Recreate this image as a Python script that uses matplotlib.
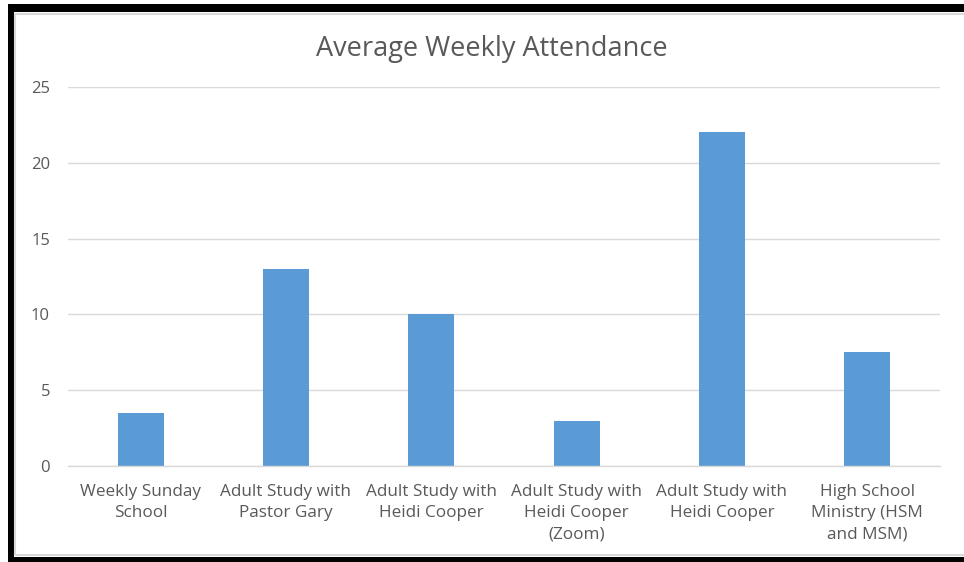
import matplotlib
matplotlib.use('Agg')
import matplotlib.pyplot as plt
from matplotlib.patches import Rectangle

categories = [
    "Weekly Sunday\nSchool",
    "Adult Study with\nPastor Gary",
    "Adult Study with\nHeidi Cooper",
    "Adult Study with\nHeidi Cooper\n(Zoom)",
    "Adult Study with\nHeidi Cooper",
    "High School\nMinistry (HSM\nand MSM)",
]
attendance = [3.5, 13, 10, 3, 22, 7.5]
y_ticks = [0, 5, 10, 15, 20, 25]

BAR = '#5B9BD5'
TXT = '#595959'
GRID = '#D9D9D9'

plt.rcParams['font.family'] = ['Open Sans', 'DejaVu Sans']

W, H = 964, 562
fig = plt.figure(figsize=(W / 100, H / 100), dpi=100)

# axes placed in pixel terms: x 68..940, y 87 (25) .. 466 (0)
ax = fig.add_axes([68 / W, 1 - 466 / H, (940 - 68) / W, (466 - 87) / H])

x = range(len(categories))
ax.bar(x, attendance, width=0.315, color=BAR, zorder=3)

ax.set_xlim(-0.5, len(categories) - 0.5)
ax.set_ylim(0, 25)
ax.set_yticks(y_ticks)
ax.set_xticks(list(x))
ax.set_xticklabels(categories, fontsize=12.3, color=TXT, linespacing=1.42)
ax.tick_params(axis='y', labelsize=12, labelcolor=TXT, length=0, pad=13)
ax.tick_params(axis='x', length=0, pad=13)
ax.grid(axis='y', color=GRID, linewidth=1, zorder=0)
for s in ['top', 'right', 'left']:
    ax.spines[s].set_visible(False)
ax.spines['bottom'].set_color(GRID)
ax.spines['bottom'].set_linewidth(1)
ax.spines['bottom'].set_zorder(4)

fig.text(492 / W, 1 - 49 / H, "Average Weekly Attendance", fontsize=19.5,
         color=TXT, ha='center', va='center')

# screenshot frame: black edges and light gray chart border
def px_rect(x0, y0, x1, y1, **kw):
    fig.patches.append(Rectangle((x0 / W, 1 - y1 / H), (x1 - x0) / W, (y1 - y0) / H,
                                 transform=fig.transFigure, **kw))

px_rect(8, 4, W + 5, 12, facecolor='black', edgecolor='none')
px_rect(8, 4, 14, H + 5, facecolor='black', edgecolor='none')
px_rect(8, 557, W + 5, H + 5, facecolor='black', edgecolor='none')
px_rect(15.5, 14, W + 10, 555, facecolor='none', edgecolor=GRID, linewidth=1.5)

fig.savefig('out.png', dpi=100)
